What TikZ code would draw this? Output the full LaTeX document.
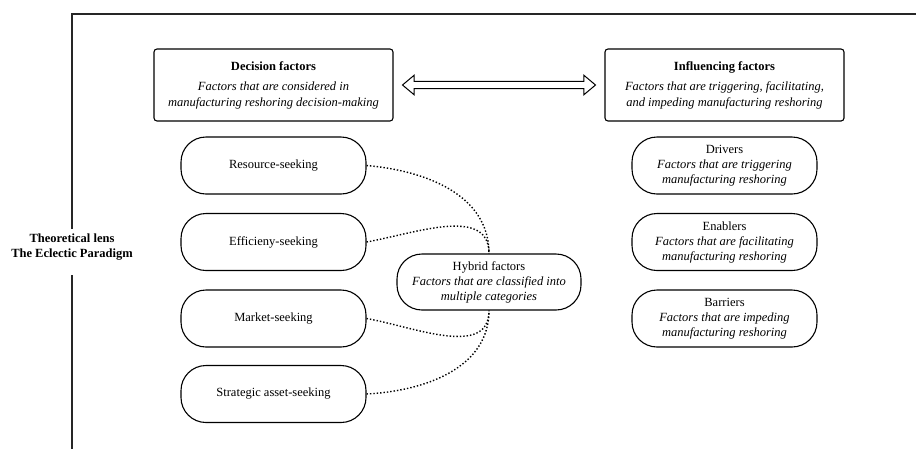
\documentclass[tikz,border=0pt]{standalone}
\usepackage{fontspec}
\setmainfont{Liberation Serif}
\usetikzlibrary{shapes.arrows}

\tikzset{
  factorbox/.style={draw, line width=1.1pt, rounded corners=3pt, minimum width=239pt, minimum height=72pt,
    align=center, inner sep=0pt, font=\fontsize{12.5}{16}\selectfont},
  seekpill/.style={draw, line width=1.1pt, rounded corners=25pt, minimum width=185pt, minimum height=57pt,
    align=center, inner sep=0pt, font=\fontsize{12.5}{15}\selectfont},
  hybridlink/.style={dotted, line width=1.4pt},
  framerule/.style={line width=1.2pt, black!85},
  twowayarrow/.style={double arrow, draw, line width=1pt, fill=white, inner xsep=0pt, inner ysep=3.2pt,
    minimum height=193pt, double arrow head extend=6pt, double arrow tip angle=80},
}

\begin{document}
\begin{tikzpicture}[x=1pt, y=-1pt]
    \useasboundingbox (0,0) rectangle (916,448);
    \coordinate (lensup) at (72,229);
    \coordinate (lensdown) at (72,275);

    \draw[framerule] (lensup) -- (72,14) -- (920,14);
    \draw[framerule] (lensdown) -- (72,452);
    \node[align=center, font=\fontsize{12.5}{15}\selectfont\bfseries] (lens) at (72,247)
        {Theoretical lens\\The Eclectic Paradigm};

    \node[factorbox] (dec) at (273.5,85) {\textbf{Decision factors}\\[4pt]
        \textit{Factors that are considered in}\\\textit{manufacturing reshoring decision-making}};
    \node[factorbox] (inf) at (724.5,85) {\textbf{Influencing factors}\\[4pt]
        \textit{Factors that are triggering, facilitating,}\\\textit{and impeding manufacturing reshoring}};
    \path (dec) -- (inf) node[midway, twowayarrow] (both) {};

    \node[seekpill] (res) at (273.5,165.5) {Resource-seeking};
    \node[seekpill] (eff) at (273.5,242) {Efficieny-seeking};
    \node[seekpill] (mkt) at (273.5,318.5) {Market-seeking};
    \node[seekpill] (str) at (273.5,394) {Strategic asset-seeking};

    \node[seekpill] (drv) at (724.5,165.5) {Drivers\\\textit{Factors that are triggering}\\\textit{manufacturing reshoring}};
    \node[seekpill] (enb) at (724.5,242) {Enablers\\\textit{Factors that are facilitating}\\\textit{manufacturing reshoring}};
    \node[seekpill] (bar) at (724.5,318.5) {Barriers\\\textit{Factors that are impeding}\\\textit{manufacturing reshoring}};

    \node[seekpill, minimum width=184pt, minimum height=56pt] (hyb) at (489,282)
        {Hybrid factors\\\textit{Factors that are classified into}\\\textit{multiple categories}};

    \draw[hybridlink] (res.east) to[out=-5, in=90] (hyb.north);
    \draw[hybridlink] (eff.east) to[out=10, in=90] (hyb.north);
    \draw[hybridlink] (mkt.east) to[out=-10, in=-90] (hyb.south);
    \draw[hybridlink] (str.east) to[out=3, in=-90] (hyb.south);
\end{tikzpicture}
\end{document}
